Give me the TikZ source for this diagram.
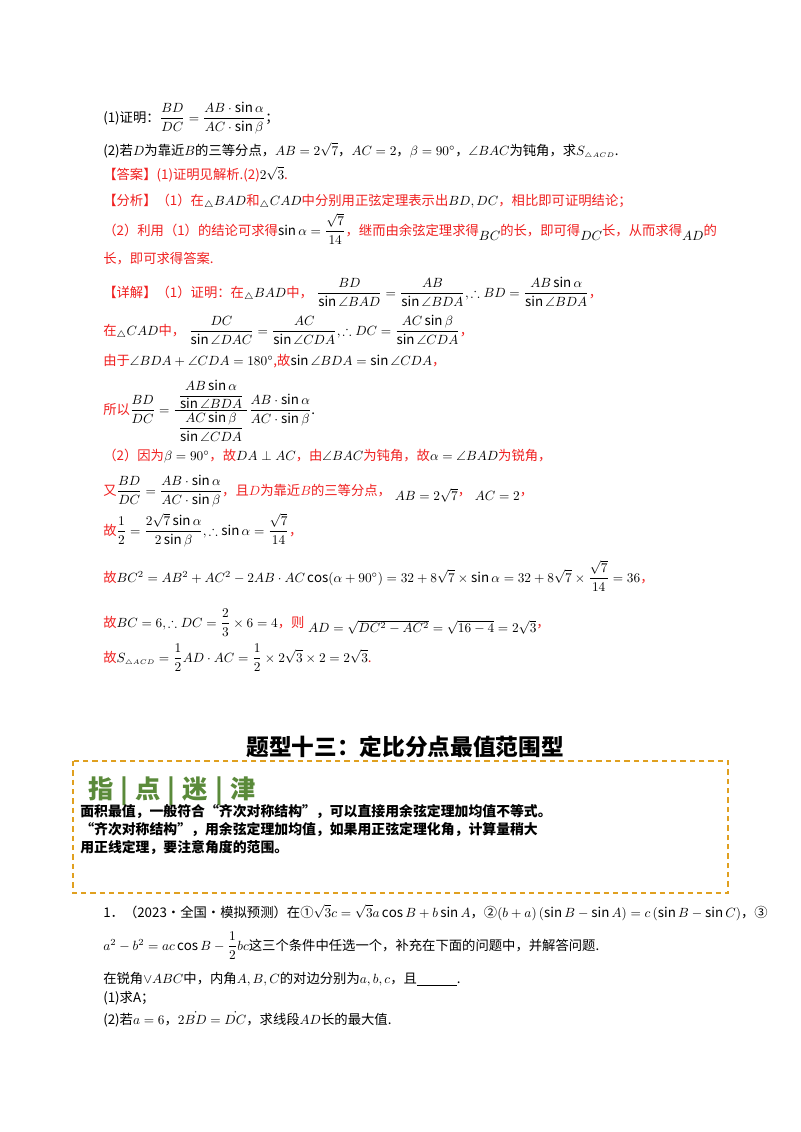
\documentclass[tikz,border=0pt]{standalone}
\usepackage{amsmath,amssymb}
\usepackage{fontspec}
\setmainfont{Noto Sans CJK SC}
\definecolor{rd}{HTML}{F02020}
\definecolor{orng}{HTML}{E0A020}
\definecolor{grn}{HTML}{5A8A3A}
\newcommand{\R}[1]{\textcolor{rd}{#1}}
\newcommand{\lw}[1]{\raisebox{-4pt}{$#1$}}
\begin{document}
\begin{tikzpicture}[x=0.75pt,y=-0.75pt,
  ln/.style={anchor=base west,inner sep=0pt,font=\fontsize{10}{12}\selectfont},
  bd/.style={anchor=base west,inner sep=0pt,font=\fontsize{10.4}{12}\bfseries\selectfont}]
\useasboundingbox[fill=white] (0,0) rectangle (800,1132);
\node[ln] (l1) at (103,122) {(1)证明：$\dfrac{BD}{DC}=\dfrac{AB\cdot\sin\alpha}{AC\cdot\sin\beta}$；};
\node[ln] (l2) at (103,155) {(2)若$D$为靠近$B$的三等分点，$AB=2\sqrt7$，$AC=2$，$\beta=90^\circ$，$\angle BAC$为钝角，求$S_{\scriptscriptstyle\triangle ACD}$.};
\node[ln] (l3) at (103,179) {\R{【答案】(1)证明见解析.(2)}$2\sqrt3$\R{.}};
\node[ln] (l4) at (103,205) {\R{【分析】（1）在}$_\triangle BAD$\R{和}$_\triangle CAD$\R{中分别用正弦定理表示出}$BD,DC$\R{，相比即可证明结论；}};
\node[ln] (l5) at (103,235) {\R{（2）利用（1）的结论可求得}$\sin\alpha=\dfrac{\sqrt7}{14}$\R{，继而由余弦定理求得}\lw{BC}\R{的长，即可得}\lw{DC}\R{长，从而求得}\lw{AD}\R{的}};
\node[ln] (l6) at (103,263) {\R{长，即可求得答案.}};
\node[ln] (l7) at (103,297) {\R{【详解】（1）证明：在}$_\triangle BAD$\R{中，}\;$\dfrac{BD}{\sin\angle BAD}=\dfrac{AB}{\sin\angle BDA},\therefore BD=\dfrac{AB\sin\alpha}{\sin\angle BDA}$\R{，}};
\node[ln] (l8) at (103,335) {\R{在}$_\triangle CAD$\R{中，}\;$\dfrac{DC}{\sin\angle DAC}=\dfrac{AC}{\sin\angle CDA},\therefore DC=\dfrac{AC\sin\beta}{\sin\angle CDA}$\R{，}};
\node[ln] (l9) at (103,365) {\R{由于}$\angle BDA+\angle CDA=180^\circ$\R{,故}$\sin\angle BDA=\sin\angle CDA$\R{，}};
\node[ln] (l10) at (103,414) {\R{所以}$\dfrac{BD}{DC}=\dfrac{\;\dfrac{AB\sin\alpha}{\sin\angle BDA}\;}{\dfrac{AC\sin\beta}{\sin\angle CDA}}\dfrac{AB\cdot\sin\alpha}{AC\cdot\sin\beta}$.};
\node[ln] (l11) at (103,460) {\R{（2）因为}$\beta=90^\circ$\R{，故}$DA\perp AC$\R{，由}$\angle BAC$\R{为钝角，故}$\alpha=\angle BAD$\R{为锐角，}};
\node[ln] (l12) at (103,495) {\R{又}$\dfrac{BD}{DC}=\dfrac{AB\cdot\sin\alpha}{AC\cdot\sin\beta}$\R{，且$D$为靠近$B$的三等分点，}\;\lw{AB=2\sqrt7}\R{，}\;\lw{AC=2}\R{，}};
\node[ln] (l13) at (103,535) {\R{故}$\dfrac12=\dfrac{2\sqrt7\sin\alpha}{2\sin\beta},\therefore\sin\alpha=\dfrac{\sqrt7}{14}$\R{，}};
\node[ln] (l14) at (103,582) {\R{故}$BC^2=AB^2+AC^2-2AB\cdot AC\cos(\alpha+90^\circ)=32+8\sqrt7\times\sin\alpha=32+8\sqrt7\times\dfrac{\sqrt7}{14}=36$\R{，}};
\node[ln] (l15) at (103,627) {\R{故}$BC=6,\therefore DC=\dfrac23\times6=4$\R{，则}\;\lw{AD=\sqrt{DC^2-AC^2}=\sqrt{16-4}=2\sqrt3}\R{，}};
\node[ln] (l16) at (103,662) {\R{故}$S_{\scriptscriptstyle\triangle ACD}=\dfrac12AD\cdot AC=\dfrac12\times2\sqrt3\times2=2\sqrt3$\R{.}};
\node[anchor=base,inner sep=0pt,font=\fontsize{17}{19}\bfseries\selectfont] (title) at (405,755) {题型十三：定比分点最值范围型};
\draw[orng,line width=1.2pt,dash pattern=on 4pt off 3pt] (73,761) rectangle (728,893);
\node[anchor=base west,inner sep=0pt,text=grn,font=\fontsize{19}{20}\bfseries\selectfont] (tip) at (88,798) {指\;|\;点\;|\;迷\;|\;津};
\node[bd] (t1) at (80,816) {面积最值，一般符合“齐次对称结构”，可以直接用余弦定理加均值不等式。};
\node[bd] (t2) at (80,834) {“齐次对称结构”，用余弦定理加均值，如果用正弦定理化角，计算量稍大};
\node[bd] (t3) at (80,852) {用正线定理，要注意角度的范围。};
\node[ln] (q1) at (103,917) {1．（2023·全国·模拟预测）在①$\sqrt3c=\sqrt3a\cos B+b\sin A$，②$\left(b+a\right)\left(\sin B-\sin A\right)=c\left(\sin B-\sin C\right)$，③};
\node[ln] (q2) at (103,950) {$a^2-b^2=ac\cos B-\dfrac12bc$这三个条件中任选一个，补充在下面的问题中，并解答问题.};
\node[ln] (q3) at (103,983) {在锐角$\vee ABC$中，内角$A,B,C$的对边分别为$a,b,c$，且\underline{\hspace{3em}}.};
\node[ln] (q4) at (103,1002) {(1)求A；};
\node[ln] (q5) at (103,1024) {(2)若$a=6$，$2\dot{BD}=\dot{DC}$，求线段$AD$长的最大值.};
\end{tikzpicture}
\end{document}
